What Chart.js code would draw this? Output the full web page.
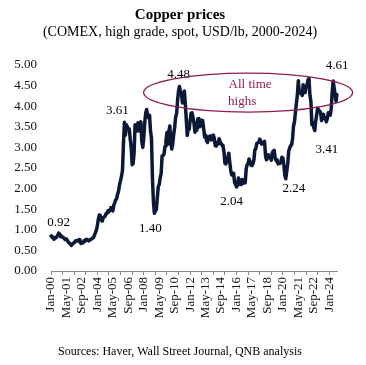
<!DOCTYPE html>
<html>
<head>
<meta charset="utf-8">
<script src="https://cdn.jsdelivr.net/npm/chart.js@4.4.1/dist/chart.umd.min.js"></script>
<style>
  html, body { margin: 0; padding: 0; background: #fff; }
</style>
</head>
<body>
<canvas id="myChart" width="366" height="365"></canvas>
<script>
/////////////////////////////
// Data | COMEX copper, monthly, USD/lb
/////////////////////////////

const monthNames = ['Jan', 'Feb', 'Mar', 'Apr', 'May', 'Jun', 'Jul', 'Aug', 'Sep', 'Oct', 'Nov', 'Dec'];
const firstYear = 2000;

const p2000 = [0.85, 0.82, 0.80, 0.77, 0.81, 0.80, 0.83, 0.87, 0.92, 0.89, 0.83, 0.85];
const p2001 = [0.82, 0.81, 0.78, 0.76, 0.78, 0.74, 0.70, 0.67, 0.66, 0.62, 0.65, 0.67];
const p2002 = [0.69, 0.72, 0.74, 0.73, 0.73, 0.76, 0.71, 0.67, 0.68, 0.68, 0.73, 0.72];
const p2003 = [0.76, 0.77, 0.75, 0.73, 0.76, 0.76, 0.78, 0.80, 0.81, 0.87, 0.93, 0.99];
const p2004 = [1.10, 1.26, 1.36, 1.35, 1.24, 1.21, 1.29, 1.31, 1.33, 1.39, 1.40, 1.46];
const p2005 = [1.44, 1.48, 1.54, 1.52, 1.46, 1.60, 1.66, 1.73, 1.76, 1.87, 1.95, 2.10];
const p2006 = [2.20, 2.30, 2.45, 3.10, 3.61, 3.30, 3.55, 3.50, 3.45, 3.45, 3.20, 3.00];
const p2007 = [2.58, 2.61, 2.87, 3.55, 3.50, 3.40, 3.60, 3.40, 3.50, 3.62, 3.15, 3.00];
const p2008 = [3.23, 3.59, 3.83, 3.92, 3.78, 3.72, 3.78, 3.39, 3.22, 2.26, 1.68, 1.40];
const p2009 = [1.46, 1.49, 1.77, 2.04, 2.10, 2.26, 2.37, 2.80, 2.80, 2.84, 3.03, 3.17];
const p2010 = [3.36, 3.08, 3.39, 3.52, 3.13, 2.96, 3.09, 3.32, 3.49, 3.74, 3.82, 4.14];
const p2011 = [4.37, 4.48, 4.34, 4.33, 4.08, 4.11, 4.37, 4.07, 3.68, 3.29, 3.47, 3.44];
const p2012 = [3.65, 3.83, 3.84, 3.72, 3.59, 3.37, 3.47, 3.42, 3.69, 3.70, 3.50, 3.60];
const p2013 = [3.66, 3.65, 3.46, 3.25, 3.30, 3.16, 3.12, 3.26, 3.25, 3.28, 3.18, 3.27];
const p2014 = [3.30, 3.22, 3.04, 3.03, 3.12, 3.08, 3.21, 3.14, 3.10, 3.05, 3.03, 2.90];
const p2015 = [2.62, 2.60, 2.72, 2.75, 2.86, 2.64, 2.45, 2.33, 2.36, 2.37, 2.15, 2.10];
const p2016 = [2.04, 2.09, 2.26, 2.20, 2.10, 2.10, 2.22, 2.13, 2.14, 2.14, 2.47, 2.58];
const p2017 = [2.61, 2.72, 2.65, 2.57, 2.56, 2.60, 2.70, 2.94, 2.97, 3.10, 3.11, 3.12];
const p2018 = [3.20, 3.16, 3.08, 3.10, 3.10, 3.15, 2.80, 2.70, 2.74, 2.82, 2.77, 2.75];
const p2019 = [2.69, 2.87, 2.91, 2.93, 2.74, 2.68, 2.70, 2.60, 2.62, 2.61, 2.66, 2.76];
const p2020 = [2.74, 2.58, 2.33, 2.24, 2.42, 2.60, 2.91, 2.98, 3.04, 3.06, 3.21, 3.52];
const p2021 = [3.62, 3.86, 4.08, 4.27, 4.62, 4.32, 4.33, 4.31, 4.26, 4.52, 4.37, 4.33];
const p2022 = [4.46, 4.52, 4.64, 4.67, 4.26, 4.12, 3.55, 3.60, 3.48, 3.41, 3.65, 3.80];
const p2023 = [3.95, 3.90, 3.88, 3.85, 3.65, 3.78, 3.80, 3.70, 3.72, 3.62, 3.70, 3.84];
const p2024 = [3.79, 3.78, 3.94, 4.33, 4.61, 4.45, 4.30, 4.12, 4.28];

const prices = [].concat(p2000, p2001, p2002, p2003, p2004, p2005, p2006, p2007, p2008,
  p2009, p2010, p2011, p2012, p2013, p2014, p2015, p2016, p2017, p2018, p2019, p2020,
  p2021, p2022, p2023, p2024);

// month labels, Jan-00 ...
const labels = prices.map((_, i) => {
  const yy = String((firstYear + Math.floor(i / 12)) % 100).padStart(2, '0');
  return monthNames[i % 12] + '-' + yy;
});

const yTicks = [0, 0.5, 1, 1.5, 2, 2.5, 3, 3.5, 4, 4.5, 5];

// callouts on the line
const calloutIdx = [8, 76, 107, 133, 192, 243, 273, 292];
const calloutText = ['0.92', '3.61', '1.40', '4.48', '2.04', '2.24', '3.41', '4.61'];

/////////////////////////////
// Text + annotation plugin
/////////////////////////////

const serif = "'Liberation Serif', 'Times New Roman', serif";
const lineColor = '#0b1836';
const markColor = '#8c1c52';

const decorPlugin = {
  id: 'decor',
  afterDatasetsDraw(chart) {
    const c = chart.ctx;
    const xs = chart.scales.x;
    const ys = chart.scales.y;
    c.save();

    // headings
    c.fillStyle = '#000';
    c.textAlign = 'center';
    c.textBaseline = 'middle';
    c.font = 'bold 15px ' + serif;
    c.fillText('Copper prices', 180, 15);
    c.font = '14px ' + serif;
    c.fillText('(COMEX, high grade, spot, USD/lb, 2000-2024)', 180, 32);
    c.font = '12px ' + serif;
    c.fillText('Sources: Haver, Wall Street Journal, QNB analysis', 180, 352);

    // value callouts
    const offs = [[0, -11], [-7, -12], [-4, 15], [-1, -12], [-5, 15], [8, 10], [12, 19], [4, -15]];
    c.font = '13px ' + serif;
    calloutIdx.forEach((idx, k) => {
      const px = xs.getPixelForValue(idx) + offs[k][0];
      const py = ys.getPixelForValue(prices[idx]) + offs[k][1];
      c.fillText(calloutText[k], px, py);
    });

    // all time highs ellipse
    const cx = xs.getPixelForValue(204);
    const cy = ys.getPixelForValue(4.33);
    c.strokeStyle = markColor;
    c.lineWidth = 1.3;
    c.beginPath();
    c.ellipse(cx, cy, 104.5, 19.5, 0, 0, Math.PI * 2);
    c.stroke();
    c.fillStyle = markColor;
    c.font = '13px ' + serif;
    c.fillText('All time', cx + 2, cy - 8);
    c.fillText('highs', cx - 6, cy + 9);

    c.restore();
  }
};

/////////////////////////////
// Chart
/////////////////////////////

const ctx = document.getElementById('myChart').getContext('2d');
const myChart = new Chart(ctx, {
  type: 'line',
  data: {
    labels: labels,
    datasets: [{
      label: 'Copper',
      data: prices,
      borderColor: lineColor,
      borderWidth: 3.5,
      pointRadius: 0,
      tension: 0,
      borderJoinStyle: 'round',
      borderCapStyle: 'round',
      fill: false
    }]
  },
  options: {
    responsive: false,
    animation: false,
    layout: { padding: { top: 65, right: 29, bottom: 0, left: 0 } },
    plugins: {
      legend: { display: false },
      tooltip: { enabled: false }
    },
    scales: {
      x: {
        type: 'category',
        grid: {
          display: true,
          drawOnChartArea: false,
          drawTicks: true,
          tickLength: 4,
          color: '#8a8a8a',
          tickColor: (c) => (c.index % 12 === 0 ? '#8a8a8a' : 'rgba(0,0,0,0)')
        },
        border: { display: true, color: '#8a8a8a', width: 1 },
        ticks: {
          autoSkip: false,
          maxRotation: 90,
          minRotation: 90,
          padding: 2,
          color: '#111',
          font: { family: serif, size: 13 },
          callback: (v, i) => (i % 16 === 0 ? labels[i] : '')
        },
        afterFit: (s) => { s.height = 94; }
      },
      y: {
        min: 0,
        max: 5,
        grid: { display: false, drawTicks: false },
        border: { display: false },
        afterBuildTicks: (s) => { s.ticks = yTicks.map(v => ({ value: v })); },
        ticks: {
          padding: 14,
          color: '#111',
          font: { family: serif, size: 13 },
          callback: (v) => Number(v).toFixed(2)
        },
        afterFit: (s) => { s.width = 51; }
      }
    }
  },
  plugins: [decorPlugin]
});
</script>
</body>
</html>
